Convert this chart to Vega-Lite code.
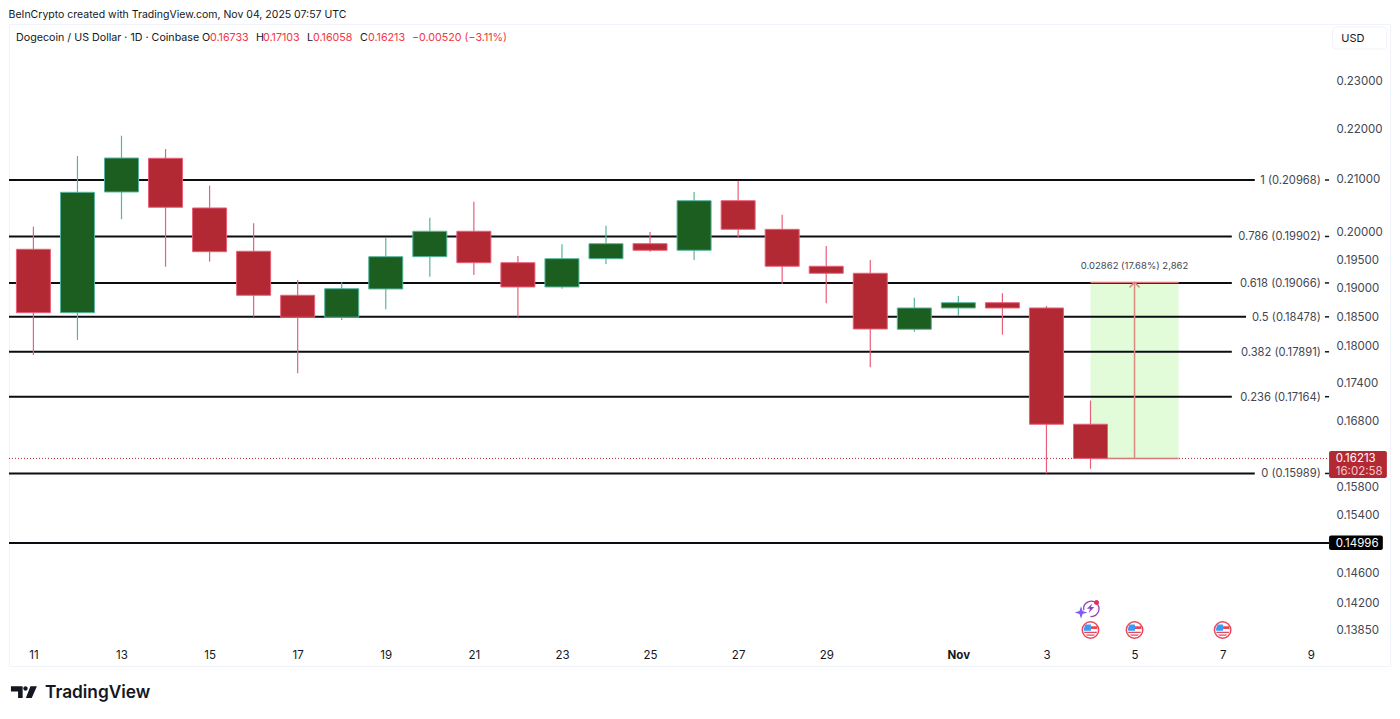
{"$schema":"https://vega.github.io/schema/vega-lite/v6.json","width":1381,"height":642,"autosize":{"type":"none"},"padding":{"left":9,"top":24,"right":10,"bottom":53},"background":"#ffffff","config":{"view":{"stroke":"#f0f3fa","strokeWidth":1},"font":"Inter","text":{"font":"Inter"}},
"resolve":{"axis":{"x":"independent","y":"independent"}},
"datasets":{
"candles":[
{"date":"2025-10-11T00:00:00Z","open":0.19668,"high":0.20083,"low":0.17838,"close":0.18549,"dir":"down"},
{"date":"2025-10-12T00:00:00Z","open":0.18549,"high":0.21438,"low":0.18087,"close":0.20731,"dir":"up"},
{"date":"2025-10-13T00:00:00Z","open":0.20737,"high":0.21844,"low":0.20221,"close":0.21398,"dir":"up"},
{"date":"2025-10-14T00:00:00Z","open":0.21393,"high":0.21577,"low":0.19354,"close":0.20446,"dir":"down"},
{"date":"2025-10-15T00:00:00Z","open":0.20433,"high":0.20858,"low":0.19444,"close":0.19624,"dir":"down"},
{"date":"2025-10-16T00:00:00Z","open":0.19632,"high":0.20146,"low":0.18481,"close":0.1885,"dir":"down"},
{"date":"2025-10-17T00:00:00Z","open":0.1885,"high":0.19118,"low":0.17539,"close":0.18471,"dir":"down"},
{"date":"2025-10-18T00:00:00Z","open":0.18471,"high":0.19078,"low":0.18424,"close":0.18965,"dir":"up"},
{"date":"2025-10-19T00:00:00Z","open":0.1896,"high":0.1988,"low":0.18608,"close":0.19534,"dir":"up"},
{"date":"2025-10-20T00:00:00Z","open":0.19534,"high":0.2025,"low":0.19176,"close":0.19998,"dir":"up"},
{"date":"2025-10-21T00:00:00Z","open":0.19998,"high":0.20552,"low":0.19206,"close":0.19426,"dir":"down"},
{"date":"2025-10-22T00:00:00Z","open":0.19426,"high":0.19546,"low":0.18481,"close":0.18995,"dir":"down"},
{"date":"2025-10-23T00:00:00Z","open":0.18995,"high":0.19759,"low":0.18965,"close":0.19498,"dir":"up"},
{"date":"2025-10-24T00:00:00Z","open":0.19498,"high":0.20101,"low":0.19403,"close":0.1977,"dir":"up"},
{"date":"2025-10-25T00:00:00Z","open":0.1977,"high":0.19985,"low":0.19624,"close":0.1965,"dir":"down"},
{"date":"2025-10-26T00:00:00Z","open":0.1965,"high":0.20737,"low":0.19474,"close":0.20571,"dir":"up"},
{"date":"2025-10-27T00:00:00Z","open":0.20571,"high":0.20954,"low":0.19887,"close":0.20034,"dir":"down"},
{"date":"2025-10-28T00:00:00Z","open":0.20034,"high":0.20307,"low":0.19047,"close":0.19362,"dir":"down"},
{"date":"2025-10-29T00:00:00Z","open":0.19362,"high":0.19728,"low":0.18711,"close":0.19237,"dir":"down"},
{"date":"2025-10-30T00:00:00Z","open":0.19237,"high":0.19474,"low":0.17637,"close":0.18272,"dir":"down"},
{"date":"2025-10-31T00:00:00Z","open":0.18267,"high":0.18808,"low":0.18226,"close":0.1863,"dir":"up"},
{"date":"2025-11-01T00:00:00Z","open":0.1863,"high":0.18837,"low":0.18493,"close":0.18721,"dir":"up"},
{"date":"2025-11-02T00:00:00Z","open":0.18721,"high":0.18885,"low":0.18176,"close":0.1863,"dir":"down"},
{"date":"2025-11-03T00:00:00Z","open":0.1863,"high":0.18664,"low":0.15989,"close":0.16733,"dir":"down"},
{"date":"2025-11-04T00:00:00Z","open":0.16733,"high":0.17103,"low":0.16058,"close":0.16213,"dir":"down"}
],
"levels":[
{"label":"1 (0.20968)","price":0.20968,"start":"2025-10-10T10:42:00Z","end":"2025-11-07T17:30:00Z","labelAt":"2025-11-09T05:30:00Z","tickFrom":"2025-11-09T07:45:00Z","tickTo":"2025-11-09T10:00:00Z"},
{"label":"0.786 (0.19902)","price":0.19902,"start":"2025-10-10T10:42:00Z","end":"2025-11-07T05:00:00Z","labelAt":"2025-11-09T05:30:00Z","tickFrom":"2025-11-09T07:45:00Z","tickTo":"2025-11-09T10:00:00Z"},
{"label":"0.618 (0.19066)","price":0.19066,"start":"2025-10-10T10:42:00Z","end":"2025-11-07T05:00:00Z","labelAt":"2025-11-09T05:30:00Z","tickFrom":"2025-11-09T07:45:00Z","tickTo":"2025-11-09T10:00:00Z"},
{"label":"0.5 (0.18478)","price":0.18478,"start":"2025-10-10T10:42:00Z","end":"2025-11-07T12:45:00Z","labelAt":"2025-11-09T05:30:00Z","tickFrom":"2025-11-09T07:45:00Z","tickTo":"2025-11-09T10:00:00Z"},
{"label":"0.382 (0.17891)","price":0.17891,"start":"2025-10-10T10:42:00Z","end":"2025-11-07T05:00:00Z","labelAt":"2025-11-09T05:30:00Z","tickFrom":"2025-11-09T07:45:00Z","tickTo":"2025-11-09T10:00:00Z"},
{"label":"0.236 (0.17164)","price":0.17164,"start":"2025-10-10T10:42:00Z","end":"2025-11-07T05:00:00Z","labelAt":"2025-11-09T05:30:00Z","tickFrom":"2025-11-09T07:45:00Z","tickTo":"2025-11-09T10:00:00Z"},
{"label":"0 (0.15989)","price":0.15989,"start":"2025-10-10T10:42:00Z","end":"2025-11-07T17:30:00Z","labelAt":"2025-11-09T05:30:00Z","tickFrom":"2025-11-09T07:45:00Z","tickTo":"2025-11-09T10:00:00Z"},
{"label":"","price":0.14996,"start":"2025-10-10T10:42:00Z","end":"2025-11-09T10:00:00Z","labelAt":"2025-11-09T05:30:00Z","tickFrom":"2025-11-09T10:00:00Z","tickTo":"2025-11-09T10:00:00Z"}
],
"header":[
{"date":"2025-10-10T14:31:00Z","price":0.23929,"text":"Dogecoin / US Dollar · 1D · Coinbase","tone":"ink"},
{"date":"2025-10-14T19:52:00Z","price":0.23929,"text":"O","tone":"ink"},
{"date":"2025-10-15T00:13:00Z","price":0.23929,"text":"0.16733","tone":"red"},
{"date":"2025-10-16T01:17:00Z","price":0.23929,"text":"H","tone":"ink"},
{"date":"2025-10-16T05:06:00Z","price":0.23929,"text":"0.17103","tone":"red"},
{"date":"2025-10-17T05:04:00Z","price":0.23929,"text":"L","tone":"ink"},
{"date":"2025-10-17T08:20:00Z","price":0.23929,"text":"0.16058","tone":"red"},
{"date":"2025-10-18T09:57:00Z","price":0.23929,"text":"C","tone":"ink"},
{"date":"2025-10-18T14:18:00Z","price":0.23929,"text":"0.16213","tone":"red"},
{"date":"2025-10-19T14:16:00Z","price":0.23929,"text":"−0.00520 (−3.11%)","tone":"red"}
],
"events":[
{"date":"2025-11-04T00:00:00Z","price":0.13837},
{"date":"2025-11-05T00:00:00Z","price":0.13837},
{"date":"2025-11-07T00:00:00Z","price":0.13837}
],
"spark":[{"date":"2025-11-04T00:00:00Z","price":0.14121}],
"logo":[{"date":"2025-10-10T18:50:00Z","price":0.13065}]
},
"layer":[
{"data":{"values":[{"from":"2025-11-04T00:00:00Z","to":"2025-11-06T00:00:00Z","top":0.19075,"bottom":0.16213}]},"mark":{"type":"rect","fill":"#e2fbd9"},"encoding":{"x":{"field":"from","type":"temporal","axis":null},"x2":{"field":"to"},"y":{"field":"bottom","type":"quantitative","axis":null},"y2":{"field":"top"}}},
{"data":{"name":"levels"},"mark":{"type":"rule","color":"#0b0d12","strokeWidth":2},"encoding":{"x":{"field":"start","type":"temporal","axis":null},"x2":{"field":"end"},"y":{"field":"price","type":"quantitative","axis":null}}},
{"data":{"name":"levels"},"mark":{"type":"rule","color":"#131722","strokeWidth":1.5},"encoding":{"x":{"field":"tickFrom","type":"temporal","axis":null},"x2":{"field":"tickTo"},"y":{"field":"price","type":"quantitative","axis":null}}},
{"data":{"name":"levels"},"mark":{"type":"text","align":"right","baseline":"middle","dy":1,"fontSize":11.2,"font":"Inter","color":"#434651"},"encoding":{"x":{"field":"labelAt","type":"temporal","axis":null},"y":{"field":"price","type":"quantitative","axis":null},"text":{"field":"label"}}},
{"data":{"values":[{"from":"2025-10-10T10:42:00Z","to":"2025-11-09T10:00:00Z","price":0.16213}]},"mark":{"type":"rule","color":"#b22833","strokeWidth":1,"strokeDash":[1,2]},"encoding":{"x":{"field":"from","type":"temporal","axis":null},"x2":{"field":"to"},"y":{"field":"price","type":"quantitative","axis":null}}},
{"data":{"values":[{"from":"2025-11-04T00:00:00Z","to":"2025-11-06T00:00:00Z","price":0.16213},{"from":"2025-11-04T00:00:00Z","to":"2025-11-06T00:00:00Z","price":0.19075}]},"mark":{"type":"rule","color":"#d9777a","strokeWidth":1.5},"encoding":{"x":{"field":"from","type":"temporal","axis":null},"x2":{"field":"to"},"y":{"field":"price","type":"quantitative","axis":null}}},
{"data":{"values":[{"date":"2025-11-05T00:00:00Z","from":0.16213,"to":0.19075}]},"mark":{"type":"rule","color":"#d9897f","strokeWidth":1.5},"encoding":{"x":{"field":"date","type":"temporal","axis":null},"y":{"field":"from","type":"quantitative","axis":null},"y2":{"field":"to"}}},
{"data":{"values":[{"date":"2025-11-05T00:00:00Z","price":0.19075}]},"mark":{"type":"point","shape":"M-1,1L0,0L1,1","size":100,"filled":false,"stroke":"#d9897f","strokeWidth":1.5,"opacity":1},"encoding":{"x":{"field":"date","type":"temporal","axis":null},"y":{"field":"price","type":"quantitative","axis":null}}},
{"data":{"values":[{"date":"2025-11-05T00:00:00Z","price":0.19367,"text":"0.02862 (17.68%) 2,862"}]},"mark":{"type":"text","fontSize":9.5,"font":"Inter","color":"#434651","align":"center","baseline":"middle"},"encoding":{"x":{"field":"date","type":"temporal","axis":null},"y":{"field":"price","type":"quantitative","axis":null},"text":{"field":"text"}}},
{"data":{"name":"candles"},"mark":{"type":"rule","strokeWidth":1.2},"encoding":{
"x":{"field":"date","type":"temporal","title":null,"scale":{"type":"utc","padding":0,"domain":[{"year":2025,"month":10,"date":10,"hours":10,"minutes":42,"utc":true},{"year":2025,"month":11,"date":10,"hours":19,"minutes":12,"utc":true}]},
"axis":{"orient":"bottom","offset":-10.5,"grid":false,"domain":false,"ticks":false,"title":null,"labelPadding":0,"labelBaseline":"middle","labelFontSize":11.5,"labelColor":"#131722","labelFont":"Inter","labelFontWeight":{"condition":{"test":"utcdate(datum.value)==1","value":"bold"},"value":"normal"},"labelExpr":"utcdate(datum.value)==1 ? 'Nov' : ''+utcdate(datum.value)","labelOverlap":false,"labelFlush":false,
"values":[{"year":2025,"month":10,"date":11,"utc":true},{"year":2025,"month":10,"date":13,"utc":true},{"year":2025,"month":10,"date":15,"utc":true},{"year":2025,"month":10,"date":17,"utc":true},{"year":2025,"month":10,"date":19,"utc":true},{"year":2025,"month":10,"date":21,"utc":true},{"year":2025,"month":10,"date":23,"utc":true},{"year":2025,"month":10,"date":25,"utc":true},{"year":2025,"month":10,"date":27,"utc":true},{"year":2025,"month":10,"date":29,"utc":true},{"year":2025,"month":11,"date":1,"utc":true},{"year":2025,"month":11,"date":3,"utc":true},{"year":2025,"month":11,"date":5,"utc":true},{"year":2025,"month":11,"date":7,"utc":true},{"year":2025,"month":11,"date":9,"utc":true}]}},
"y":{"field":"high","type":"quantitative","title":null,"scale":{"type":"log","domain":[0.13384,0.24218],"nice":false},
"axis":{"orient":"right","offset":-54,"grid":false,"domain":false,"ticks":false,"title":null,"labelPadding":0,"labelAlign":"left","labelBaseline":"middle","labelOffset":1.5,"labelFontSize":11.5,"labelColor":"#434651","labelFont":"Inter","format":".5f","labelOverlap":false,"labelFlush":false,"values":[0.23,0.22,0.21,0.2,0.195,0.19,0.185,0.18,0.174,0.168,0.158,0.154,0.146,0.142,0.1385]}},
"y2":{"field":"low"},"stroke":{"field":"dir","type":"nominal","legend":null,"scale":{"domain":["up","down"],"range":["#57b5a0","#e8607a"]}}}},
{"data":{"name":"candles"},"mark":{"type":"bar","size":34,"strokeWidth":1},"encoding":{"x":{"field":"date","type":"temporal","axis":null},"y":{"field":"open","type":"quantitative","axis":null},"y2":{"field":"close"},"fill":{"field":"dir","type":"nominal","legend":null,"scale":{"domain":["up","down"],"range":["#1b5e20","#b22833"]}},"stroke":{"field":"dir","type":"nominal","legend":null}}},
{"data":{"values":[{"from":"2025-11-09T10:00:00Z","to":"2025-11-10T17:30:00Z","top":0.16325,"bottom":0.15923}]},"mark":{"type":"rect","fill":"#b22833","cornerRadius":2},"encoding":{"x":{"field":"from","type":"temporal","axis":null},"x2":{"field":"to"},"y":{"field":"bottom","type":"quantitative","axis":null},"y2":{"field":"top"}}},
{"data":{"values":[{"from":"2025-11-09T10:00:00Z","to":"2025-11-10T15:18:00Z","top":0.15097,"bottom":0.14899}]},"mark":{"type":"rect","fill":"#000000","cornerRadius":2},"encoding":{"x":{"field":"from","type":"temporal","axis":null},"x2":{"field":"to"},"y":{"field":"bottom","type":"quantitative","axis":null},"y2":{"field":"top"}}},
{"data":{"values":[{"date":"2025-11-09T13:40:00Z","price":0.16213,"text":"0.16213"},{"date":"2025-11-09T13:40:00Z","price":0.14996,"text":"0.14996"}]},"mark":{"type":"text","align":"left","baseline":"middle","dy":1,"fontSize":11.5,"font":"Inter","color":"#ffffff"},"encoding":{"x":{"field":"date","type":"temporal","axis":null},"y":{"field":"price","type":"quantitative","axis":null},"text":{"field":"text"}}},
{"data":{"values":[{"date":"2025-11-09T13:40:00Z","price":0.16026,"text":"16:02:58"}]},"mark":{"type":"text","align":"left","baseline":"middle","dy":1,"fontSize":11.5,"font":"Inter","color":"#f7c5c9"},"encoding":{"x":{"field":"date","type":"temporal","axis":null},"y":{"field":"price","type":"quantitative","axis":null},"text":{"field":"text"}}},
{"data":{"values":[{"date":"2025-10-10T10:29:00Z","price":0.24443,"text":"BeInCrypto created with TradingView.com, Nov 04, 2025 07:57 UTC"}]},"mark":{"type":"text","align":"left","baseline":"middle","dy":1,"fontSize":10.5,"font":"Inter","color":"#131722"},"encoding":{"x":{"field":"date","type":"temporal","axis":null},"y":{"field":"price","type":"quantitative","axis":null},"text":{"field":"text"}}},
{"data":{"name":"header"},"mark":{"type":"text","align":"left","baseline":"middle","dy":1,"fontSize":10.7,"font":"Inter"},"encoding":{"x":{"field":"date","type":"temporal","axis":null},"y":{"field":"price","type":"quantitative","axis":null},"text":{"field":"text"},"color":{"field":"tone","type":"nominal","legend":null,"scale":{"domain":["ink","red"],"range":["#131722","#f23645"]}}}},
{"data":{"values":[{"from":"2025-11-09T11:50:00Z","to":"2025-11-10T17:30:00Z","top":0.24151,"bottom":0.23665}]},"mark":{"type":"rect","fill":"#ffffff","stroke":"#f0f3fa","cornerRadius":4},"encoding":{"x":{"field":"from","type":"temporal","axis":null},"x2":{"field":"to"},"y":{"field":"bottom","type":"quantitative","axis":null},"y2":{"field":"top"}}},
{"data":{"values":[{"date":"2025-11-09T16:40:00Z","price":0.23905,"text":"USD"}]},"mark":{"type":"text","align":"left","baseline":"middle","dy":1,"fontSize":11,"font":"Inter","color":"#131722"},"encoding":{"x":{"field":"date","type":"temporal","axis":null},"y":{"field":"price","type":"quantitative","axis":null},"text":{"field":"text"}}},
{"data":{"name":"events"},"mark":{"type":"point","shape":"circle","size":270,"filled":true,"fill":"#ffffff","stroke":"#e8475a","strokeWidth":1.5,"opacity":1},"encoding":{"x":{"field":"date","type":"temporal","axis":null},"y":{"field":"price","type":"quantitative","axis":null}}},
{"data":{"name":"events"},"mark":{"type":"point","shape":"M0.05,-0.4H0.75V-0.1H0.05ZM-0.7,0.2H0.7V0.35H-0.7ZM-0.5,0.5H0.5L0.35,0.65H-0.35Z","size":324,"filled":true,"fill":"#e8475a","stroke":null,"opacity":1},"encoding":{"x":{"field":"date","type":"temporal","axis":null},"y":{"field":"price","type":"quantitative","axis":null}}},
{"data":{"name":"events"},"mark":{"type":"point","shape":"M-0.55,-0.6H0.05V0.1H-0.72V-0.2Z","size":324,"filled":true,"fill":"#3b9bf0","stroke":null,"opacity":1},"encoding":{"x":{"field":"date","type":"temporal","axis":null},"y":{"field":"price","type":"quantitative","axis":null}}},
{"data":{"name":"spark"},"mark":{"type":"point","shape":"M-0.75,0.25A0.85,0.85 0 1 1 0,0.95","size":324,"filled":false,"stroke":"#8e44c4","strokeWidth":1.3,"opacity":1},"encoding":{"x":{"field":"date","type":"temporal","axis":null},"y":{"field":"price","type":"quantitative","axis":null}}},
{"data":{"name":"spark"},"mark":{"type":"point","shape":"M0.2,-0.5L-0.4,0.1L-0.05,0.1L-0.2,0.55L0.42,-0.12L0.05,-0.12Z","size":324,"filled":true,"fill":"#8e44c4","stroke":null,"opacity":1},"encoding":{"x":{"field":"date","type":"temporal","axis":null},"y":{"field":"price","type":"quantitative","axis":null}}},
{"data":{"name":"spark"},"mark":{"type":"point","shape":"M-1.05,-0.2L-0.88,0.33L-0.35,0.5L-0.88,0.67L-1.05,1.2L-1.22,0.67L-1.75,0.5L-1.22,0.33Z","size":324,"filled":true,"fill":"#7c5cff","stroke":null,"opacity":1},"encoding":{"x":{"field":"date","type":"temporal","axis":null},"y":{"field":"price","type":"quantitative","axis":null}}},
{"data":{"name":"spark"},"mark":{"type":"point","shape":"M0.39,-0.6A0.28,0.28 0 1 1 0.95,-0.6A0.28,0.28 0 1 1 0.39,-0.6Z","size":324,"filled":true,"fill":"#e0315a","stroke":null,"opacity":1},"encoding":{"x":{"field":"date","type":"temporal","axis":null},"y":{"field":"price","type":"quantitative","axis":null}}},
{"data":{"name":"logo"},"mark":{"type":"point","shape":"M-1,-0.46H-0.1V0.46H-0.45V-0.05H-1ZM0.5,-0.46H1L0.6,0.46H0.15ZM-0.05,-0.28A0.17,0.17 0 1 1 0.29,-0.28A0.17,0.17 0 1 1 -0.05,-0.28Z","size":676,"filled":true,"fill":"#131722","stroke":null,"opacity":1},"encoding":{"x":{"field":"date","type":"temporal","axis":null},"y":{"field":"price","type":"quantitative","axis":null}}},
{"data":{"values":[{"date":"2025-10-11T06:19:00Z","price":0.13065,"text":"TradingView"}]},"mark":{"type":"text","align":"left","baseline":"middle","dy":1,"fontSize":17.3,"fontWeight":600,"font":"Inter","color":"#131722"},"encoding":{"x":{"field":"date","type":"temporal","axis":null},"y":{"field":"price","type":"quantitative","axis":null},"text":{"field":"text"}}}
]}
